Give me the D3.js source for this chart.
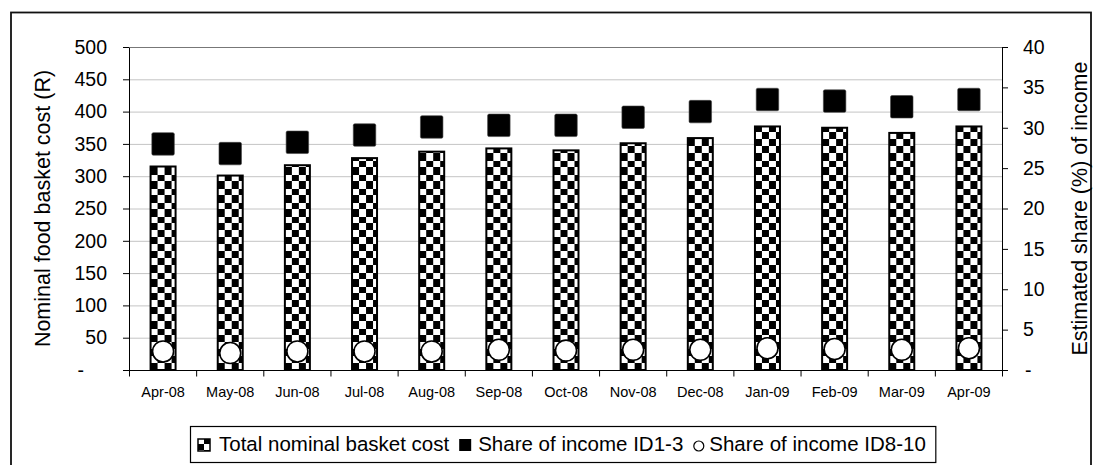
<!DOCTYPE html>
<html>
<head>
<meta charset="utf-8">
<script src="https://cdn.jsdelivr.net/npm/d3@7"></script>
<style>
  body { margin: 0; background: #fff; }
  svg { display: block; }
  text { font-family: "Liberation Sans", Arial, sans-serif; fill: #000; }
</style>
</head>
<body>
<svg id="chart" width="1101" height="465"></svg>
<script>
// Monthly food basket cost and estimated share of income
const months = ["Apr-08", "May-08", "Jun-08", "Jul-08", "Aug-08", "Sep-08", "Oct-08",
                "Nov-08", "Dec-08", "Jan-09", "Feb-09", "Mar-09", "Apr-09"];
const basketCost = [315, 301, 317, 328, 338, 343, 340, 351, 359, 377, 375, 367, 377];
const shareID1to3 = [28.0, 26.8, 28.2, 29.1, 30.1, 30.3, 30.3, 31.3, 32.0, 33.5, 33.3, 32.6, 33.5];
const shareID8to10 = [2.3, 2.1, 2.3, 2.3, 2.3, 2.5, 2.4, 2.5, 2.5, 2.7, 2.6, 2.5, 2.7];
const leftTicks = [0, 50, 100, 150, 200, 250, 300, 350, 400, 450, 500];
const rightTicks = [0, 5, 10, 15, 20, 25, 30, 35, 40];
const legendLabels = ["Total nominal basket cost", "Share of income ID1-3", "Share of income ID8-10"];
const leftTitle = "Nominal food basket cost (R)";
const rightTitle = "Estimated share (%) of income";

const svg = d3.select("#chart");
const plot = { left: 129.5, right: 1002.5, top: 47, bottom: 370 };

const x = d3.scaleBand().domain(months).range([plot.left, plot.right]).padding(0);
const yL = d3.scaleLinear().domain([0, 500]).range([plot.bottom, plot.top]);
const yR = d3.scaleLinear().domain([0, 40]).range([plot.bottom, plot.top]);

// outer frame
svg.append("rect")
  .attr("x", 11).attr("y", 12.5).attr("width", 1080).attr("height", 470)
  .attr("fill", "none").attr("stroke", "#111").attr("stroke-width", 1.8);

// horizontal gridlines
svg.append("g").selectAll("line")
  .data(leftTicks.filter(t => t > 0))
  .join("line")
  .attr("x1", plot.left).attr("x2", plot.right)
  .attr("y1", d => yL(d) + 0.5).attr("y2", d => yL(d) + 0.5)
  .attr("stroke", d => d === 500 ? "#777" : "#c4c4c4")
  .attr("stroke-width", 1);

// checkerboard fills, one per bar so the pattern starts at each bar's edge
const defs = svg.append("defs");
const barW = 25;
months.forEach((m, i) => {
  const bx = x(m) + x.bandwidth() / 2 - barW / 2;
  const p = defs.append("pattern")
    .attr("id", "chk" + i)
    .attr("patternUnits", "userSpaceOnUse")
    .attr("x", bx).attr("y", plot.bottom)
    .attr("width", 14).attr("height", 14);
  p.append("rect").attr("width", 14).attr("height", 14).attr("fill", "#fff");
  p.append("rect").attr("x", 7).attr("y", 0).attr("width", 7).attr("height", 7).attr("fill", "#000");
  p.append("rect").attr("x", 0).attr("y", 7).attr("width", 7).attr("height", 7).attr("fill", "#000");
});
const lp = defs.append("pattern")
  .attr("id", "chkLegend").attr("patternUnits", "userSpaceOnUse")
  .attr("width", 12).attr("height", 12);
lp.append("rect").attr("width", 12).attr("height", 12).attr("fill", "#fff");
lp.append("rect").attr("x", 6).attr("width", 6).attr("height", 6).attr("fill", "#000");
lp.append("rect").attr("y", 6).attr("width", 6).attr("height", 6).attr("fill", "#000");

// bars: total nominal basket cost
svg.append("g").selectAll("rect")
  .data(months)
  .join("rect")
  .attr("x", d => x(d) + x.bandwidth() / 2 - barW / 2)
  .attr("y", (d, i) => yL(basketCost[i]))
  .attr("width", barW)
  .attr("height", (d, i) => yL(0) - yL(basketCost[i]))
  .attr("fill", (d, i) => `url(#chk${i})`)
  .attr("stroke", "#000").attr("stroke-width", 2);

// square markers: share of income ID1-3
const sq = 22.5;
svg.append("g").selectAll("rect")
  .data(months)
  .join("rect")
  .attr("x", d => x(d) + x.bandwidth() / 2 - sq / 2)
  .attr("y", (d, i) => yR(shareID1to3[i]) - sq / 2)
  .attr("width", sq).attr("height", sq).attr("rx", 1.5)
  .attr("fill", "#000").attr("stroke", "#444").attr("stroke-width", 0.6);

// circle markers: share of income ID8-10
svg.append("g").selectAll("circle")
  .data(months)
  .join("circle")
  .attr("cx", d => x(d) + x.bandwidth() / 2)
  .attr("cy", (d, i) => yR(shareID8to10[i]))
  .attr("r", 10.5)
  .attr("fill", "#fff").attr("stroke", "#000").attr("stroke-width", 1.6);

// left axis
const gL = svg.append("g")
  .attr("transform", `translate(${plot.left - 0.5},0)`)
  .call(d3.axisLeft(yL).tickValues(leftTicks).tickSize(6).tickSizeOuter(0).tickPadding(16)
    .tickFormat(d => d === 0 ? "-" : d));
gL.selectAll("text").attr("font-size", "19.5px").attr("font-family", null);
gL.selectAll(".tick").filter(d => d === 0).select("text").attr("dx", -23);

// right axis
const gR = svg.append("g")
  .attr("transform", `translate(${plot.right - 0.5},0)`)
  .call(d3.axisRight(yR).tickValues(rightTicks).tickSize(6).tickSizeOuter(0).tickPadding(15)
    .tickFormat(d => d === 0 ? "-" : d));
gR.selectAll("text").attr("font-size", "19.5px").attr("font-family", null);
gR.selectAll(".tick").filter(d => d === 0).select("text").attr("dx", 2);

// bottom axis: labels centred under bars, ticks at category boundaries
const gX = svg.append("g")
  .attr("transform", `translate(0,${plot.bottom})`)
  .call(d3.axisBottom(x).tickSize(0).tickPadding(16.5).tickSizeOuter(0));
gX.selectAll("text").attr("font-size", "14.5px").attr("font-family", null);
gX.select(".domain").attr("stroke", "#000");
const bounds = months.map(m => x(m)).concat([x.range()[1]]);
svg.append("g").selectAll("line")
  .data(bounds)
  .join("line")
  .attr("x1", d => d).attr("x2", d => d)
  .attr("y1", plot.bottom).attr("y2", plot.bottom + 6.5)
  .attr("stroke", "#000");

[gL, gR, gX].forEach(g => g.selectAll("path, line").attr("stroke", "#000"));

// axis titles
svg.append("text")
  .attr("transform", `translate(50,${(plot.top + plot.bottom) / 2}) rotate(-90)`)
  .attr("text-anchor", "middle").attr("font-size", "21.5px")
  .text(leftTitle);
svg.append("text")
  .attr("transform", `translate(1087,${(plot.top + plot.bottom) / 2}) rotate(-90)`)
  .attr("text-anchor", "middle").attr("font-size", "21.5px")
  .text(rightTitle);

// legend
const leg = svg.append("g");
const legBox = leg.append("rect")
  .attr("y", 426.5).attr("height", 36)
  .attr("fill", "#fff").attr("stroke", "#000").attr("stroke-width", 1.2);
const baseY = 451;
let cx = 198;
legendLabels.forEach((label, i) => {
  if (i === 0) {
    leg.append("rect").attr("x", cx).attr("y", 439).attr("width", 12).attr("height", 12)
      .attr("fill", "url(#chkLegend)").attr("stroke", "#000").attr("stroke-width", 1.5);
    cx += 21;
  } else if (i === 1) {
    leg.append("rect").attr("x", cx).attr("y", 439).attr("width", 12).attr("height", 12)
      .attr("fill", "#000");
    cx += 19;
  } else {
    leg.append("circle").attr("cx", cx + 5.5).attr("cy", 446).attr("r", 5)
      .attr("fill", "#fff").attr("stroke", "#000").attr("stroke-width", 1.2);
    cx += 16;
  }
  const t = leg.append("text").attr("x", cx).attr("y", baseY)
    .attr("font-size", "20.5px").text(label);
  cx += t.node().getComputedTextLength() + 10;
});
legBox.attr("x", 190.5).attr("width", cx - 190.5);
</script>
</body>
</html>
